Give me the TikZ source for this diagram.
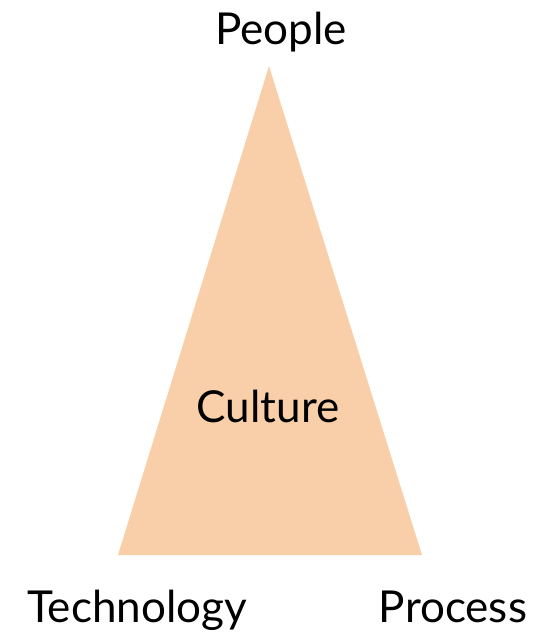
\documentclass[tikz,border=0pt]{standalone}
\usepackage{fontspec}
\setmainfont{Lato}
\usetikzlibrary{positioning}

\begin{document}
\begin{tikzpicture}[
  x=0.5pt,y=-0.5pt,
  every node/.style={font=\fontsize{22}{26}\selectfont,align=center,inner sep=0pt},
  label/.style={anchor=base},
  triangle/.style={fill=peach,draw=none}]
  \definecolor{peach}{HTML}{F8CFA8}
  \useasboundingbox (0,0) rectangle (556,636);
  \coordinate (apex) at (269,66);
  \coordinate (left) at (118,555);
  \coordinate (right) at (422,555);
  \fill[triangle] (apex) -- (right) -- (left) -- cycle;

  \node[label] (people) at (281,45) {People};
  \node[label] (culture) at (268,422) {Culture};
  \node[label] (tech) at (137,622) {Technology};
  \node[label] (process) at (453,622) {Process};
\end{tikzpicture}
\end{document}
